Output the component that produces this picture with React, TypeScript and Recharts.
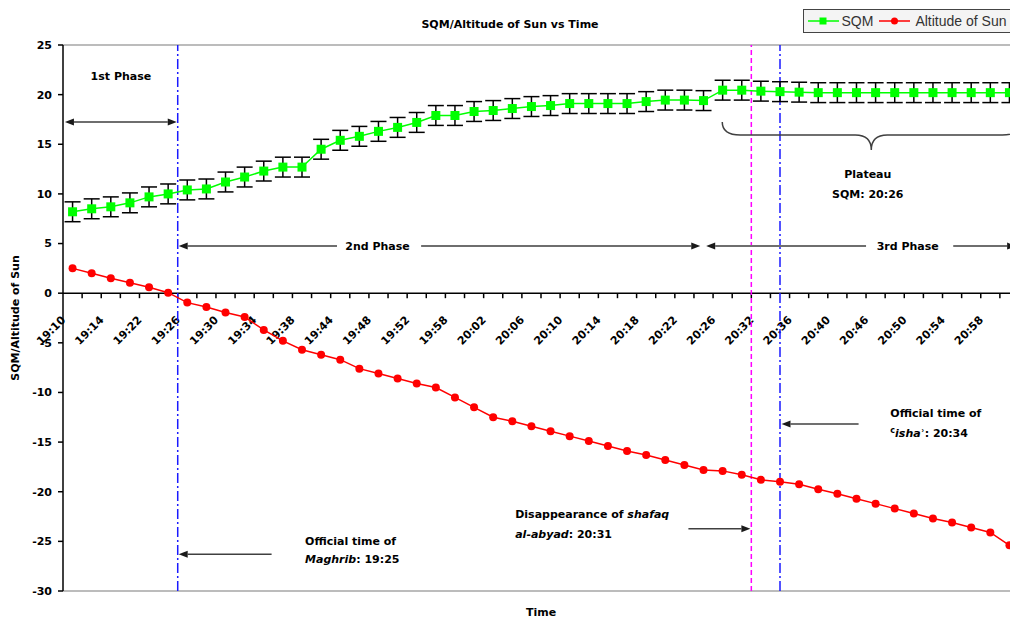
import React from 'react';
import { LineChart, Line, XAxis, YAxis, ErrorBar, ReferenceLine, Legend } from 'recharts';

// ---------- data ----------
const times = [
  '19:10', '19:12', '19:14', '19:18', '19:22', '19:24', '19:26', '19:28', '19:30', '19:32',
  '19:34', '19:36', '19:38', '19:42', '19:44', '19:46', '19:48', '19:50', '19:52', '19:56',
  '19:58', '20:00', '20:02', '20:04', '20:06', '20:08', '20:10', '20:12', '20:14', '20:16',
  '20:18', '20:20', '20:22', '20:24', '20:26', '20:30', '20:32', '20:34', '20:36', '20:38',
  '20:40', '20:44', '20:46', '20:48', '20:50', '20:52', '20:54', '20:56', '20:58', '21:00',
];

const sqm = [
  8.2, 8.5, 8.7, 9.1, 9.7, 10.0, 10.4, 10.5, 11.2, 11.7,
  12.3, 12.7, 12.7, 14.5, 15.4, 15.8, 16.3, 16.7, 17.2, 17.9,
  17.9, 18.3, 18.4, 18.6, 18.8, 18.9, 19.1, 19.1, 19.1, 19.1,
  19.3, 19.45, 19.45, 19.4, 20.45, 20.45, 20.35, 20.3, 20.25, 20.2,
  20.2, 20.2, 20.2, 20.2, 20.2, 20.2, 20.2, 20.2, 20.2, 20.2,
];

const sqmError = [
  1.0, 1.0, 1.0, 1.0, 1.0, 1.0, 1.0, 1.0, 1.0, 1.0,
  1.0, 1.0, 1.0, 1.0, 1.0, 1.0, 1.0, 1.0, 1.0, 1.0,
  1.0, 1.0, 1.0, 1.0, 1.0, 1.0, 1.0, 1.0, 1.0, 1.0,
  1.0, 1.0, 1.0, 1.0, 1.0, 1.0, 1.0, 1.0, 1.0, 1.0,
  1.0, 1.0, 1.0, 1.0, 1.0, 1.0, 1.0, 1.0, 1.0, 1.0,
];

const altitude = [
  2.5, 2.0, 1.5, 1.05, 0.6, 0.05, -0.95, -1.4, -1.95, -2.4,
  -3.7, -4.8, -5.7, -6.2, -6.7, -7.6, -8.1, -8.6, -9.1, -9.5,
  -10.5, -11.5, -12.5, -12.9, -13.4, -13.9, -14.4, -14.9, -15.4, -15.9,
  -16.3, -16.8, -17.3, -17.8, -17.9, -18.3, -18.8, -19.0, -19.25, -19.75,
  -20.2, -20.7, -21.2, -21.7, -22.2, -22.7, -23.1, -23.6, -24.1, -25.4,
];

const yTicks = [25, 20, 15, 10, 5, 0, -5, -10, -15, -20, -25, -30];

const series = [
  { key: 'sqm', name: 'SQM', color: '#00ff00', marker: 'square' },
  { key: 'alt', name: 'Altitude of Sun', color: '#ff0000', marker: 'circle' },
];

// vertical event lines (category-index positions)
const eventLines = [
  { x: 5.5, color: '#1a1aff', dash: '10 3 2 3' },   // Maghrib 19:25
  { x: 35.5, color: '#ff00ff', dash: '5 3' },      // shafaq al-abyad 20:31
  { x: 37, color: '#1a1aff', dash: '10 3 2 3' },    // isha 20:34
];

// arrows: [fromX, fromY] -> [toX, toY]
const arrows = [
  { from: [-0.4, 17.25], to: [5.45, 17.25], both: true, kind: 'phase' },
  { from: [13.83, 4.75], to: [5.55, 4.75], both: false, kind: 'phase' },
  { from: [18.23, 4.75], to: [32.83, 4.75], both: false, kind: 'phase' },
  { from: [41.5, 4.75], to: [33.14, 4.75], both: false, kind: 'phase' },
  { from: [46.06, 4.75], to: [49.35, 4.75], both: false, kind: 'phase' },
  { from: [10.41, -26.3], to: [5.55, -26.3], both: false, kind: 'note' },
  { from: [32.21, -23.72], to: [35.45, -23.72], both: false, kind: 'note' },
  { from: [41.11, -13.18], to: [37.08, -13.18], both: false, kind: 'note' },
];

const notes = [
  { x: 2.53, y: 21.48, anchor: 'middle', parts: [{ t: '1st Phase' }] },
  { x: 15.95, y: 4.35, anchor: 'middle', parts: [{ t: '2nd Phase' }] },
  { x: 43.68, y: 4.35, anchor: 'middle', parts: [{ t: '3rd Phase' }] },
  { x: 41.59, y: 11.6, anchor: 'middle', parts: [{ t: 'Plateau' }] },
  { x: 41.59, y: 9.59, anchor: 'middle', parts: [{ t: 'SQM: 20:26' }] },
  { x: 12.16, y: -25.37, anchor: 'start', parts: [{ t: 'Official time of' }] },
  { x: 12.16, y: -27.18, anchor: 'start', parts: [{ t: 'Maghrib', i: true }, { t: ': 19:25' }] },
  { x: 23.15, y: -22.65, anchor: 'start', parts: [{ t: 'Disappearance of ' }, { t: 'shafaq', i: true }] },
  { x: 23.15, y: -24.66, anchor: 'start', parts: [{ t: 'al-abyad', i: true }, { t: ': 20:31' }] },
  { x: 42.77, y: -12.47, anchor: 'start', parts: [{ t: 'Official time of' }] },
  { x: 42.77, y: -14.48, anchor: 'start', parts: [{ t: 'c', sup: true }, { t: 'isha', i: true }, { t: 'ʾ: 20:34' }] },
];

// plateau brace spans these category positions at this value
const brace = { x1: 33.98, x2: 49.57, y: 17.25 };

const data = times.map((t, i) => ({ x: i, time: t, sqm: sqm[i], err: sqmError[i], alt: altitude[i] }));

const FONT = "'DejaVu Sans', Verdana, sans-serif";
const boundaries = times.map((_, i) => i + 0.5);
const labelIdx = times.map((_, i) => i).filter((i) => i % 2 === 0);

// ---------- shapes ----------
const makeArrow = (lineColor: string, headColor: string, w: number, both: boolean, hl: number, hw: number) =>
  (p: any) => {
    const { x1, y1, x2, y2 } = p;
    const dx = x2 - x1;
    const dy = y2 - y1;
    const len = Math.hypot(dx, dy) || 1;
    const ux = dx / len;
    const uy = dy / len;
    const head = (tx: number, ty: number, vx: number, vy: number) =>
      `${tx},${ty} ${tx - vx * hl - vy * hw},${ty - vy * hl + vx * hw} ${tx - vx * hl + vy * hw},${ty - vy * hl - vx * hw}`;
    const sx = both ? x1 + ux * hl : x1;
    const sy = both ? y1 + uy * hl : y1;
    return (
      <g>
        <line x1={sx} y1={sy} x2={x2 - ux * hl} y2={y2 - uy * hl} stroke={lineColor} strokeWidth={w} />
        <polygon points={head(x2, y2, ux, uy)} fill={headColor} />
        {both ? <polygon points={head(x1, y1, -ux, -uy)} fill={headColor} /> : null}
      </g>
    );
  };

const makeNote = (n: any) => (p: any) => (
  <text x={p.x1} y={p.y1} textAnchor={n.anchor} fontFamily={FONT} fontWeight={700} fontSize={11} fill="#000">
    {n.parts.map((pt: any, j: number) => (
      <tspan
        key={j}
        fontStyle={pt.i ? 'italic' : 'normal'}
        fontSize={pt.sup ? 8 : 11}
        dy={pt.sup ? -4 : j > 0 && n.parts[j - 1].sup ? 4 : 0}
      >
        {pt.t}
      </tspan>
    ))}
  </text>
);

const braceShape = (p: any) => {
  const { x1, y1, x2 } = p;
  const mid = (x1 + x2) / 2;
  const d = 13;
  const tip = 28;
  const path = `M${x1},${y1} Q${x1},${y1 + d} ${x1 + 18},${y1 + d} L${mid - 16},${y1 + d} Q${mid},${y1 + d} ${mid},${y1 + tip} Q${mid},${y1 + d} ${mid + 16},${y1 + d} L${x2 - 18},${y1 + d} Q${x2},${y1 + d} ${x2},${y1}`;
  return <path d={path} fill="none" stroke="#404040" strokeWidth={1.5} />;
};

const tickMarkShape = (p: any) => <line x1={p.x1} y1={p.y1} x2={p.x1} y2={p.y1 + 5} stroke="#000" strokeWidth={1.5} />;

const tickLabelShape = (label: string) => (p: any) => {
  const ax = p.x1 - 6.5;
  const ay = p.y1 + 27.5;
  return (
    <text x={ax} y={ay} textAnchor="end" transform={`rotate(-45 ${ax} ${ay})`} fontFamily={FONT} fontWeight={700} fontSize={11} fill="#000">
      {label}
    </text>
  );
};

const SquareDot = (props: any) => {
  const { cx, cy, index } = props;
  if (cx == null || cy == null) return <g key={index} />;
  return <rect key={index} x={cx - 4.5} y={cy - 4.5} width={9} height={9} fill="#00ff00" />;
};

const CircleDot = (props: any) => {
  const { cx, cy, index } = props;
  if (cx == null || cy == null) return <g key={index} />;
  return <circle key={index} cx={cx} cy={cy} r={4} fill="#ff0000" />;
};

const LegendBox = () => (
  <div
    style={{
      display: 'flex',
      alignItems: 'center',
      height: 22,
      width: 222,
      border: '1.5px solid #444',
      background: '#f4f4f4',
      paddingLeft: 3.5,
      fontFamily: "'Liberation Sans', Arial, sans-serif",
      fontSize: 14,
      color: '#333',
      whiteSpace: 'nowrap',
      boxSizing: 'content-box',
    }}
  >
    {series.map((s, i) => (
      <React.Fragment key={s.key}>
        <svg width={31} height={12} style={{ marginLeft: i === 0 ? 0 : 6, flex: 'none' }}>
          <line x1={0} y1={6} x2={31} y2={6} stroke={s.color} strokeWidth={1.5} />
          {s.marker === 'square' ? (
            <rect x={11.5} y={2.5} width={7} height={7} fill={s.color} />
          ) : (
            <circle cx={15.5} cy={6} r={3.5} fill={s.color} />
          )}
        </svg>
        <span style={{ marginLeft: i === 0 ? 3 : 5 }}>{s.name}</span>
      </React.Fragment>
    ))}
  </div>
);

export default function App() {
  return (
    <div style={{ position: 'absolute', left: 0, top: 0, width: 1010, height: 621, overflow: 'hidden', background: '#fff' }}>
      <div
        style={{
          position: 'absolute',
          left: 0,
          top: 18,
          width: 1020,
          textAlign: 'center',
          fontFamily: FONT,
          fontWeight: 700,
          fontSize: 11,
          lineHeight: '13px',
          color: '#000',
          zIndex: 2,
        }}
      >
        SQM/Altitude of Sun vs Time
      </div>
      <LineChart width={1040} height={621} data={data} margin={{ top: 45, right: 21, bottom: 0, left: 0 }}>
        <XAxis
          type="number"
          dataKey="x"
          domain={[-0.5, 49.5]}
          allowDataOverflow
          tick={false}
          tickLine={false}
          axisLine={false}
          height={30}
          label={{ value: 'Time', position: 'insideBottom', offset: 5, style: { fontFamily: FONT, fontWeight: 700, fontSize: 11, fill: '#000' } }}
        />
        <YAxis
          type="number"
          domain={[-30, 25]}
          ticks={yTicks}
          interval={0}
          allowDataOverflow
          width={63}
          tickSize={5}
          tickMargin={6}
          axisLine={{ stroke: '#000', strokeWidth: 1.5 }}
          tickLine={{ stroke: '#000', strokeWidth: 1.5 }}
          tick={{ fontFamily: FONT, fontWeight: 700, fontSize: 11, fill: '#000' }}
          label={(props: any) => {
            const vb = props.viewBox || { x: 0, y: 45, width: 63, height: 546 };
            const cx = vb.x + 15;
            const cy = vb.y + vb.height / 2;
            return (
              <text x={cx} y={cy} transform={`rotate(-90 ${cx} ${cy})`} textAnchor="middle" dominantBaseline="central" fontFamily={FONT} fontWeight={700} fontSize={11} fill="#000">
                SQM/Altitude of Sun
              </text>
            );
          }}
        />
        <Legend
          layout="vertical"
          align="center"
          verticalAlign="middle"
          wrapperStyle={{ top: 9, left: 803, width: 240 }}
          content={() => <LegendBox />}
        />

        {/* plot-area border */}
        <ReferenceLine y={25} stroke="#a6a6a6" strokeWidth={1.5} ifOverflow="visible" />
        <ReferenceLine y={-30} stroke="#a6a6a6" strokeWidth={1.5} ifOverflow="visible" />
        <ReferenceLine x={49.5} stroke="#a6a6a6" strokeWidth={1.5} ifOverflow="visible" />

        {/* category axis crossing at 0 */}
        <ReferenceLine y={0} stroke="#000" strokeWidth={1.5} ifOverflow="visible" />
        {boundaries.map((b) => (
          <ReferenceLine key={`tm${b}`} segment={[{ x: b, y: 0 }, { x: b, y: 0 }]} ifOverflow="visible" shape={tickMarkShape} />
        ))}
        {labelIdx.map((i) => (
          <ReferenceLine key={`tl${i}`} segment={[{ x: i, y: 0 }, { x: i, y: 0 }]} ifOverflow="visible" shape={tickLabelShape(times[i])} />
        ))}

        {/* event lines */}
        {eventLines.map((e) => (
          <ReferenceLine key={`ev${e.x}`} x={e.x} stroke={e.color} strokeWidth={1.5} strokeDasharray={e.dash} ifOverflow="visible" />
        ))}

        {/* arrows */}
        {arrows.map((a, i) => (
          <ReferenceLine
            key={`ar${i}`}
            segment={[{ x: a.from[0], y: a.from[1] }, { x: a.to[0], y: a.to[1] }]}
            ifOverflow="visible"
            shape={
              a.kind === 'phase'
                ? makeArrow('#6e6e6e', '#1a1a1a', 2, a.both, 9, 3.5)
                : makeArrow('#404040', '#1a1a1a', 1.5, a.both, 9, 3.5)
            }
          />
        ))}

        {/* brace */}
        <ReferenceLine segment={[{ x: brace.x1, y: brace.y }, { x: brace.x2, y: brace.y }]} ifOverflow="visible" shape={braceShape} />

        {/* notes */}
        {notes.map((n, i) => (
          <ReferenceLine key={`nt${i}`} segment={[{ x: n.x, y: n.y }, { x: n.x, y: n.y }]} ifOverflow="visible" shape={makeNote(n)} />
        ))}

        <Line
          dataKey="sqm"
          name="SQM"
          stroke="#00ff00"
          strokeWidth={1.5}
          dot={SquareDot}
          activeDot={false}
          isAnimationActive={false}
        >
          <ErrorBar dataKey="err" width={8} stroke="#000" strokeWidth={1.5} direction="y" isAnimationActive={false} />
        </Line>
        <Line
          dataKey="alt"
          name="Altitude of Sun"
          stroke="#ff0000"
          strokeWidth={1.5}
          dot={CircleDot}
          activeDot={false}
          isAnimationActive={false}
        />
      </LineChart>
    </div>
  );
}
